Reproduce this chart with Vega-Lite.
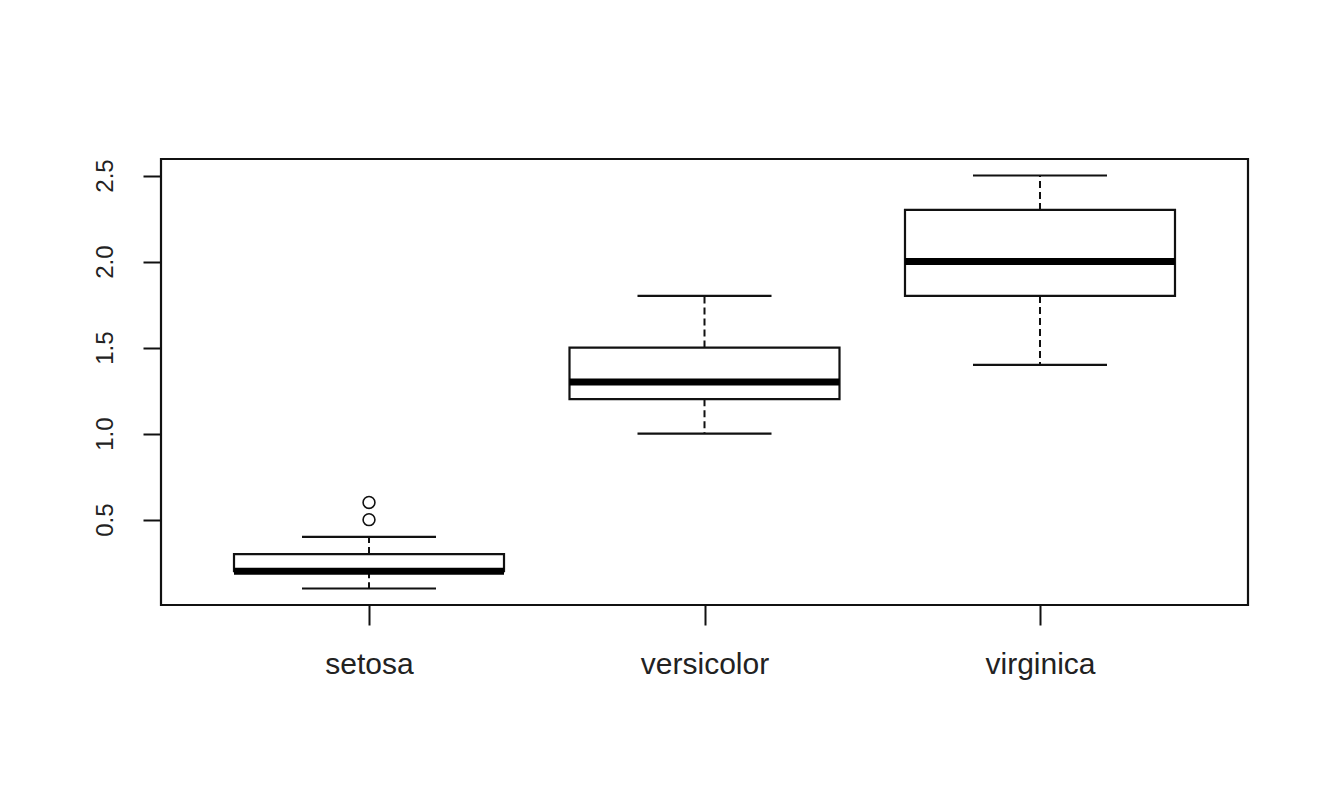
{
  "$schema": "https://vega.github.io/schema/vega-lite/v6.json",
  "width": 1087,
  "height": 446,
  "autosize": {"type": "none"},
  "padding": {"left": 161, "top": 159, "right": 84, "bottom": 189},
  "background": "white",
  "config": {
    "view": {"stroke": "#111111", "strokeWidth": 2.2},
    "font": "Liberation Sans"
  },
  "datasets": {
    "boxes": [
      {"species": "setosa", "min": 0.1, "q1": 0.2, "median": 0.2, "q3": 0.3, "max": 0.4},
      {"species": "versicolor", "min": 1.0, "q1": 1.2, "median": 1.3, "q3": 1.5, "max": 1.8},
      {"species": "virginica", "min": 1.4, "q1": 1.8, "median": 2.0, "q3": 2.3, "max": 2.5}
    ],
    "outliers": [
      {"species": "setosa", "value": 0.5},
      {"species": "setosa", "value": 0.6}
    ]
  },
  "layer": [
    {
      "data": {"name": "boxes"},
      "mark": {"type": "rule", "strokeDash": [7, 4], "strokeWidth": 2, "color": "#111111"},
      "encoding": {
        "x": {
          "field": "species", "type": "nominal",
          "scale": {"type": "point", "padding": 0.62, "domain": ["setosa", "versicolor", "virginica"]},
          "axis": {
            "title": null, "domain": false, "grid": false,
            "tickSize": 20, "tickWidth": 2, "tickColor": "#111111",
            "labelFontSize": 30, "labelColor": "#222222", "labelAngle": 0,
            "labelBaseline": "alphabetic", "labelPadding": 48
          }
        },
        "y": {
          "field": "q1", "type": "quantitative",
          "scale": {"domain": [0.004, 2.596], "nice": false, "zero": false},
          "axis": {
            "title": null, "domain": false, "grid": false,
            "values": [0.5, 1, 1.5, 2, 2.5], "format": ".1f",
            "tickSize": 18, "tickWidth": 2, "tickColor": "#111111",
            "labelFontSize": 24, "labelColor": "#222222", "labelAngle": -90,
            "labelAlign": "center", "labelBaseline": "alphabetic", "labelPadding": 31
          }
        },
        "y2": {"field": "min"}
      }
    },
    {
      "data": {"name": "boxes"},
      "mark": {"type": "rule", "strokeDash": [7, 4], "strokeWidth": 2, "color": "#111111"},
      "encoding": {
        "x": {"field": "species", "type": "nominal"},
        "y": {"field": "q3", "type": "quantitative"},
        "y2": {"field": "max"}
      }
    },
    {
      "data": {"name": "boxes"},
      "mark": {"type": "bar", "size": 270, "fill": "white", "stroke": "#111111", "strokeWidth": 2.2},
      "encoding": {
        "x": {"field": "species", "type": "nominal"},
        "y": {"field": "q1", "type": "quantitative"},
        "y2": {"field": "q3"}
      }
    },
    {
      "data": {"name": "boxes"},
      "mark": {"type": "tick", "size": 270, "thickness": 7, "color": "#000000", "opacity": 1},
      "encoding": {
        "x": {"field": "species", "type": "nominal"},
        "y": {"field": "median", "type": "quantitative"}
      }
    },
    {
      "data": {"name": "boxes"},
      "mark": {"type": "tick", "size": 134, "thickness": 2.2, "color": "#111111", "opacity": 1},
      "encoding": {
        "x": {"field": "species", "type": "nominal"},
        "y": {"field": "min", "type": "quantitative"}
      }
    },
    {
      "data": {"name": "boxes"},
      "mark": {"type": "tick", "size": 134, "thickness": 2.2, "color": "#111111", "opacity": 1},
      "encoding": {
        "x": {"field": "species", "type": "nominal"},
        "y": {"field": "max", "type": "quantitative"}
      }
    },
    {
      "data": {"name": "outliers"},
      "mark": {"type": "point", "shape": "circle", "filled": false, "stroke": "#111111", "strokeWidth": 1.6, "size": 140, "opacity": 1},
      "encoding": {
        "x": {"field": "species", "type": "nominal"},
        "y": {"field": "value", "type": "quantitative"}
      }
    }
  ]
}
